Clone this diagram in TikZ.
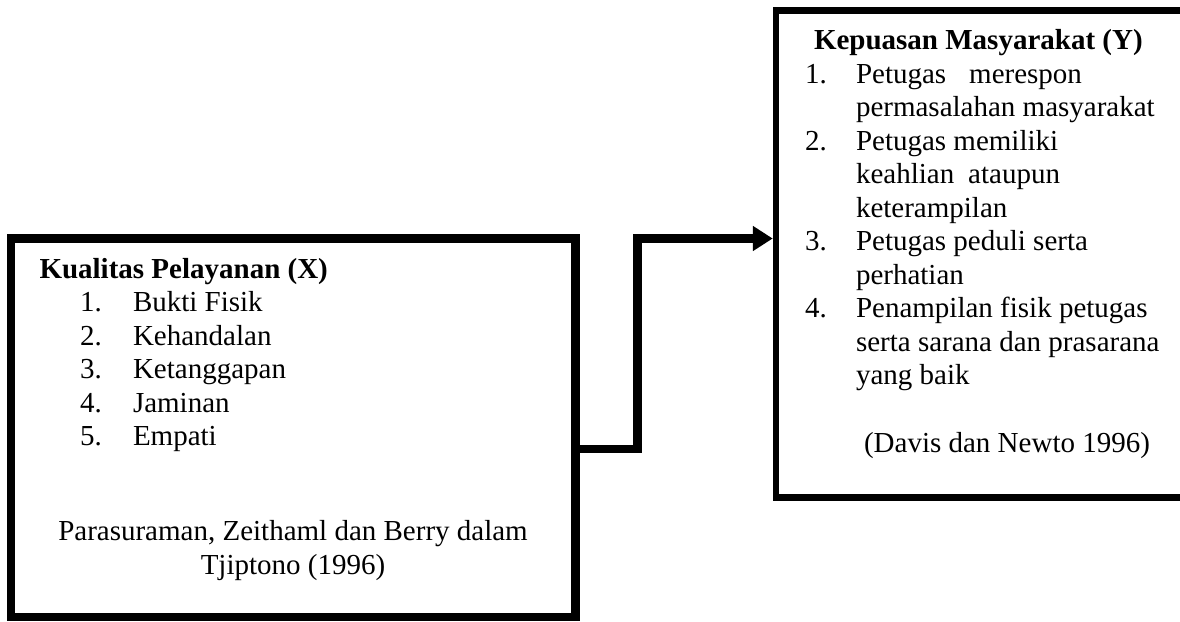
\documentclass[tikz,border=0pt]{standalone}
\usepackage{fontspec}
\setmainfont{Liberation Serif}
\usetikzlibrary{arrows.meta}
\tikzset{
  txt/.style={anchor=base west, inner sep=0pt, outer sep=0pt, font=\fontsize{29}{33.5}\selectfont},
  ctxt/.style={anchor=base, inner sep=0pt, outer sep=0pt, font=\fontsize{29}{33.5}\selectfont},
  ttl/.style={txt, font=\fontsize{29}{33.5}\selectfont\bfseries},
  lframe/.style={draw, line width=8.5pt, line join=miter, inner sep=0pt},
  rframe/.style={draw, line width=6.5pt, line join=miter, inner sep=0pt},
  conn/.style={line width=8.5pt, line join=miter, -{Triangle[length=20pt,width=24pt]}}
}
\begin{document}
\begin{tikzpicture}[x=1pt,y=-1pt]
\clip (0,0) rectangle (1180,621);
\useasboundingbox (0,0) rectangle (1180,621);
\fill[white] (0,0) rectangle (1180,621);

% boxes
\node[lframe, minimum width=564.5pt, minimum height=378.5pt] (lbox) at (293.25,427.75) {};
\node[rframe, minimum width=414pt, minimum height=487pt] (rbox) at (983,254) {};

% left box text
\node[ttl] (lt) at (39.5,278) {Kualitas Pelayanan (X)};
\node[txt] (ln1) at (80,311.5) {1.};
\node[txt] (li1) at (133,311.5) {Bukti Fisik};
\node[txt] (ln2) at (80,345) {2.};
\node[txt] (li2) at (133,345) {Kehandalan};
\node[txt] (ln3) at (80,378.5) {3.};
\node[txt] (li3) at (133,378.5) {Ketanggapan};
\node[txt] (ln4) at (80,412) {4.};
\node[txt] (li4) at (133,412) {Jaminan};
\node[txt] (ln5) at (80,445.5) {5.};
\node[txt] (li5) at (133,445.5) {Empati};
\node[ctxt] (lref1) at (293,540.5) {Parasuraman, Zeithaml dan Berry dalam};
\node[ctxt] (lref2) at (293,574) {Tjiptono (1996)};

% right box text
\node[ttl] (rt) at (814,49.5) {Kepuasan Masyarakat (Y)};
\node[txt] (rn1) at (805,83) {1.};
\node[txt] (ri1a) at (856,83) {Petugas\hspace{23pt}merespon};
\node[txt] (ri1b) at (856,116.5) {permasalahan masyarakat};
\node[txt] (rn2) at (805,150) {2.};
\node[txt] (ri2a) at (856,150) {Petugas memiliki};
\node[txt] (ri2b) at (856,183.5) {keahlian\hspace{14pt}ataupun};
\node[txt] (ri2c) at (856,217) {keterampilan};
\node[txt] (rn3) at (805,250.5) {3.};
\node[txt] (ri3a) at (856,250.5) {Petugas peduli serta};
\node[txt] (ri3b) at (856,284) {perhatian};
\node[txt] (rn4) at (805,317.5) {4.};
\node[txt] (ri4a) at (856,317.5) {Penampilan fisik petugas};
\node[txt] (ri4b) at (856,351) {serta sarana dan prasarana};
\node[txt] (ri4c) at (856,384.5) {yang baik};
\node[ctxt] (rref) at (1007,452) {(Davis dan Newto 1996)};

% connector
\coordinate (bend) at (637.5,238.5);
\draw[conn] (lbox.east |- 0,449) -| (bend) -- (rbox.west |- bend);
\end{tikzpicture}
\end{document}
